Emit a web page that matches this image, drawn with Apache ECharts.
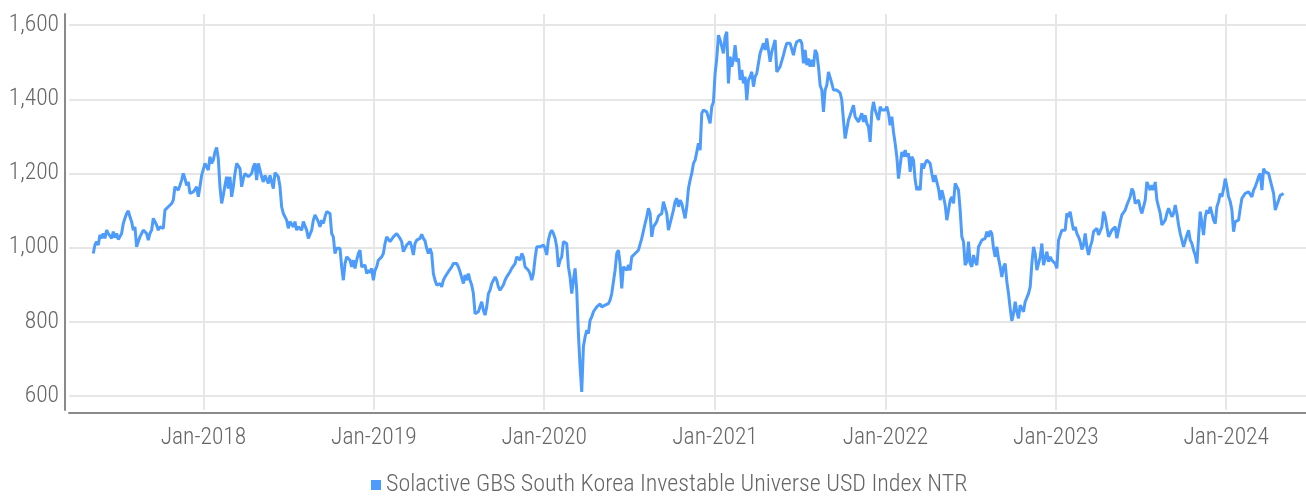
<!DOCTYPE html>
<html>
<head>
<meta charset="utf-8">
<script src="https://cdn.jsdelivr.net/npm/echarts@6/dist/echarts.min.js"></script>
<style>
  html, body { margin: 0; padding: 0; background: #ffffff; }
  #chart { width: 1306px; height: 496px; }
</style>
</head>
<body>
<div id="chart"></div>
<script>
// Index level series, sampled every 25/7 days starting from firstDate
const seriesName = 'Solactive GBS South Korea Investable Universe USD Index NTR';
const firstDate = [2017, 4, 10];          // 10 May 2017 (month is 0-based)
const stepDays = 25 / 7;
const yearTicks = [2018, 2019, 2020, 2021, 2022, 2023, 2024];
const valueTicks = [600, 800, 1000, 1200, 1400, 1600];
const axisRange = { xMin: [2017, 2, 19], xMax: [2024, 5, 20], yMin: 562, yMax: 1630 };

const indexLevels = [
  // May 2017 - Mar 2018
  984,1007,1016,1007,1034,1025,1038,1025,1047,1038,
  1034,1025,1043,1027,1038,1022,1025,1038,1065,1079,
  1092,1099,1083,1070,1047,1056,1002,1016,1029,1034,
  1047,1049,1038,1020,1038,1047,1079,1074,1061,1047,
  1056,1052,1052,1101,1106,1110,1112,1119,1128,1164,
  1159,1155,1168,1182,1200,1186,1168,1177,1146,1141,
  1150,1150,1164,1137,1164,1195,1200,1227,1218,1209,
  1245,1227,1236,1258,1270,1240,1164,1119,1141,1168,
  1191,1159,1191,1137,1164,1200,1227,1222,
  // Mar 2018 - Jul 2019
  1213,1164,1186,1200,1195,1191,1195,1200,1218,1227,
  1182,1227,1209,1191,1177,1195,1191,1173,1195,1177,
  1159,1202,1200,1191,1164,1110,1092,1092,1074,1052,
  1070,1065,1056,1070,1047,1056,1061,1047,1070,1065,
  1047,1025,1027,1047,1074,1088,1092,1070,1056,1074,
  1065,1083,1097,1101,1092,1038,1029,984,998,1002,
  998,948,912,957,975,975,966,948,966,944,
  966,984,993,948,944,953,930,939,932,944,
  912,939,948,966,971,975,984,1011,1029,1034,
  1016,1020,1029,1025,1038,1043,1025,1016,989,993,
  1007,1011,1016,1002,980,1011,1020,1022,1025,1036,
  1025,1018,998,984,998,984,930,912,899,894,
  903,894,912,921,917,935,930,948,957,957,
  957,948,
  // Jul 2019 - Oct 2020
  935,930,903,926,912,930,912,899,876,822,
  818,827,822,854,831,818,840,876,885,903,
  908,921,912,894,885,885,899,912,921,926,
  935,944,948,957,975,971,966,984,975,948,
  953,939,930,912,930,971,1002,1007,1002,1004,
  1007,998,980,1020,1038,1047,1038,1025,1002,948,
  966,975,1016,1018,1011,948,921,876,912,944,
  885,768,679,611,733,759,777,768,804,813,
  827,831,840,836,848,840,836,845,849,849,
  858,876,881,939,984,993,957,890,948,944,
  939,953,939,975,971,984,980,993,998,1025,
  1029,1065,1083,1106,1092,1029,1056,1061,1070,1085,
  1083,1092,1124,1121,1092,1047,1065,1083,1101,1124,
  1133,1110,
  // Oct 2020 - Feb 2022
  1128,1119,1115,1079,1110,1159,1182,1200,1227,1236,
  1258,1281,1263,1362,1371,1371,1366,1371,1335,1380,
  1393,1470,1510,1573,1560,1560,1524,1569,1582,1443,
  1515,1488,1506,1546,1501,1510,1452,1479,1443,1461,
  1398,1452,1461,1474,1434,1461,1470,1497,1524,1524,
  1551,1533,1564,1533,1501,1528,1533,1560,1474,1479,
  1488,1492,1519,1537,1551,1551,1551,1555,1519,1542,
  1555,1555,1560,1551,1497,1533,1492,1510,1488,1506,
  1488,1533,1524,1488,1438,1425,1366,1425,1438,1474,
  1470,1443,1425,1429,1425,1423,1417,1398,1344,1294,
  1290,1344,1357,1362,1384,1353,1357,1339,1335,1362,
  1339,1357,1335,1326,1285,1366,1393,1371,1375,1344,
  1380,1371,1375,1371,1380,1362,1330,1353,1312,1281,
  1245,1186,
  // Feb 2022 - Apr 2023
  1222,1258,1245,1263,1245,1254,1204,1245,1236,1182,
  1155,1164,1155,1227,1213,1227,1236,1236,1227,1200,
  1177,1195,1191,1159,1128,1155,1137,1115,1074,1101,
  1128,1137,1119,1173,1164,1155,1101,1029,1016,953,
  962,1016,957,948,980,962,953,1002,998,1020,
  1020,1025,1043,1029,1045,1038,998,975,1002,971,
  948,921,948,957,908,876,836,802,822,854,
  827,809,845,836,827,854,858,876,894,957,
  1002,984,939,957,975,1011,953,971,989,962,
  975,966,971,957,944,1020,1034,1047,1052,1047,
  1092,1083,1097,1070,1047,1056,1038,1029,1016,995,
  1007,1038,1002,980,1002,1016,1043,1038,1052,1034,
  // Apr 2023 - May 2024
  1038,1056,1097,1083,1056,1029,1038,1047,1052,1056,
  1025,1029,1070,1088,1083,1101,1115,1119,1137,1159,
  1150,1119,1115,1128,1106,1092,1088,1128,1177,1173,
  1155,1168,1155,1177,1128,1110,1092,1061,1056,1074,
  1092,1106,1110,1083,1092,1115,1092,1061,1038,1034,
  1002,1004,1034,1047,1020,1011,993,980,957,1029,
  1097,1065,1034,1083,1101,1092,1110,1092,1074,1065,
  1110,1124,1146,1137,1159,1186,1164,1137,1124,1101,
  1043,1070,1074,1074,1106,1133,1128,1146,1141,1150,
  1148,1137,1155,1164,1177,1191,1200,1155,1213,1204,
  1204,1200,1182,1177,1146,1101,1115,1128,1141,1139,
  1146
];

const DAY = 86400000;
const toTime = (ymd) => new Date(ymd[0], ymd[1], ymd[2]).getTime();
const t0 = toTime(firstDate);
const seriesData = indexLevels.map((v, i) => [t0 + Math.round(i * stepDays * DAY), v]);
const yearTickTimes = yearTicks.map(y => new Date(y, 0, 1).getTime());

const FONT = "'Roboto Condensed', 'DejaVu Sans Condensed', sans-serif";
const FONT_SIZE = 23.5;
const FONT_WEIGHT = 300;
const TEXT = '#666666';
const GRID = '#e6e6e6';
const AXIS = '#8a8a8a';
const LINE = '#4d9bfb';

const chart = echarts.init(document.getElementById('chart'), null, { renderer: 'canvas' });
chart.setOption({
  animation: false,
  textStyle: { fontFamily: FONT },
  grid: { left: 69, right: 0, top: 14, bottom: 86, outerBoundsMode: 'none' },
  legend: {
    left: 371, top: 473, padding: 0,
    icon: 'rect', itemWidth: 10, itemHeight: 10, itemGap: 10,
    textStyle: { fontFamily: FONT, fontSize: 24, fontWeight: FONT_WEIGHT, color: TEXT, lineHeight: 24 },
    data: [seriesName]
  },
  // Dates are plotted as timestamps on a value axis so the year ticks can be placed exactly
  xAxis: {
    type: 'value',
    min: toTime(axisRange.xMin),
    max: toTime(axisRange.xMax),
    offset: 3,
    axisLine: { show: true, lineStyle: { color: AXIS, width: 2 } },
    axisTick: { show: false, customValues: yearTickTimes },
    splitLine: { show: true, lineStyle: { color: GRID, width: 2 } },
    axisLabel: {
      customValues: yearTickTimes,
      margin: 13,
      fontFamily: FONT, fontSize: FONT_SIZE, fontWeight: FONT_WEIGHT, color: TEXT,
      formatter: (v) => 'Jan-' + new Date(v).getFullYear()
    }
  },
  yAxis: {
    type: 'value',
    min: axisRange.yMin,
    max: axisRange.yMax,
    offset: 4,
    axisLine: { show: true, lineStyle: { color: AXIS, width: 2 } },
    axisTick: { show: false, customValues: valueTicks },
    splitLine: { show: true, lineStyle: { color: GRID, width: 2 } },
    axisLabel: {
      customValues: valueTicks,
      margin: 6,
      fontFamily: FONT, fontSize: FONT_SIZE, fontWeight: FONT_WEIGHT, color: TEXT,
      formatter: (v) => v.toLocaleString('en-US')
    }
  },
  series: [{
    name: seriesName,
    type: 'line',
    data: seriesData,
    showSymbol: false,
    symbol: 'none',
    color: LINE,
    lineStyle: { color: LINE, width: 3 },
    emphasis: { disabled: true }
  }]
});
</script>
</body>
</html>
